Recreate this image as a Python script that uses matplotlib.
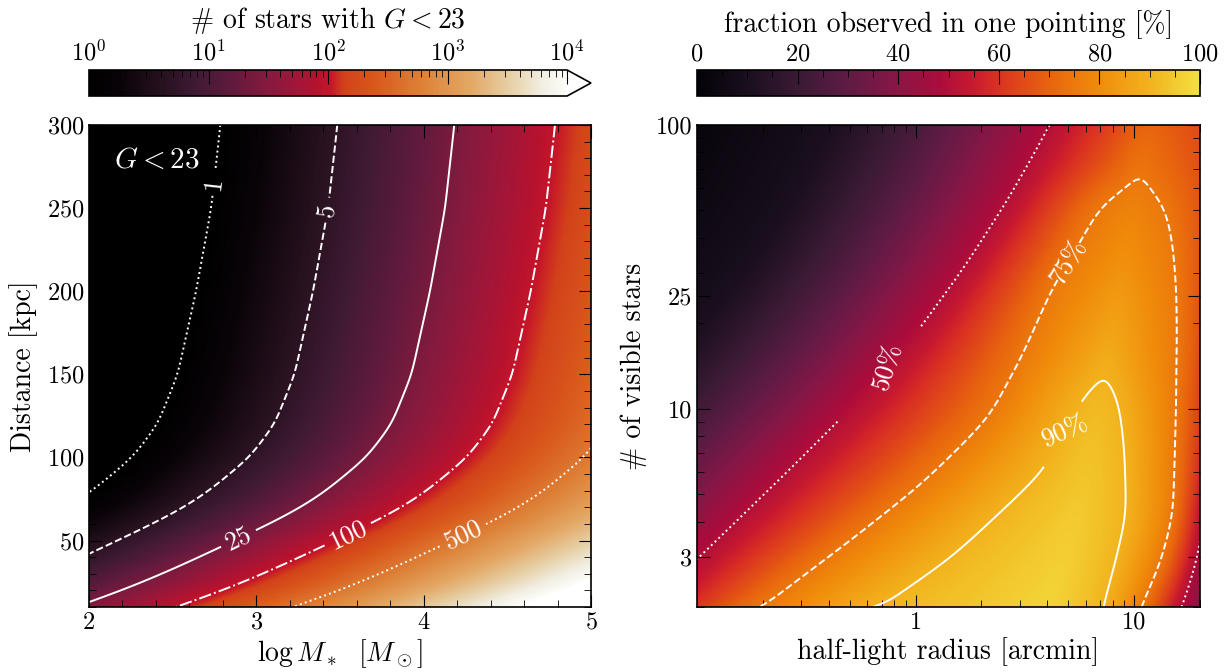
import numpy as np
import matplotlib
matplotlib.use("Agg")
import matplotlib.pyplot as plt
from matplotlib.colors import LinearSegmentedColormap, LogNorm, Normalize
from matplotlib.ticker import MultipleLocator, FixedLocator, FixedFormatter, NullFormatter, LogLocator

# ===== left panel: stars with G<23, N = M_* x (stars per Msun at distance D) =====
DIST_ANCHOR = [0, 10, 20, 30, 40, 50, 60, 70, 80, 90, 100, 120, 150, 200, 250, 300, 350]
LOG_STARS_PER_MSUN = [-0.24, -0.52, -0.80, -1.04, -1.26, -1.47, -1.68, -1.87, -2.02, -2.14,
                      -2.26, -2.41, -2.53, -2.64, -2.73, -2.785, -2.83]
LEFT_LEVELS = [1, 5, 25, 100, 500]
LEFT_STYLES = [':', '--', '-', '-.', ':']
LEFT_LABEL_POS = [(2.74, 265), (3.41, 249), (2.89, 52), (3.55, 53), (4.23, 54)]

# ===== right panel: fraction observed in one pointing [%] =====
# rows in log10(# visible stars); u = log10(half-light radius / arcmin)
V_ROWS = [0.301, 0.5, 0.75, 1.0, 1.25, 1.5, 1.75, 2.0]
LOW_LEVELS = [3, 10, 25, 50]
U3_LEFT = [-2.8, -2.5, -2.2, -1.85, -1.55, -1.28, -1.05, -0.9]
U10_LEFT = [-2.3, -2.0, -1.7, -1.33, -1.02, -0.76, -0.55, -0.39]
U25_LEFT = [-1.85, -1.6, -1.28, -0.92, -0.62, -0.36, -0.15, 0.02]
U50_LEFT = [-1.22, -0.954, -0.624, -0.30, -0.01, 0.23, 0.44, 0.615]
EDGE_F = [38, 49, 58, 63, 66, 67, 67, 65]   # value at the right border (20 arcmin)

L75_V = [0.301, 0.549, 0.737, 0.972, 1.183, 1.442, 1.618, 1.70, 1.783, 1.818]
L75_U = [-0.72, -0.29, 0.025, 0.34, 0.481, 0.623, 0.758, 0.812, 0.892, 1.017]
R75_V = [0.301, 0.443, 0.62, 1.207, 1.407, 1.583, 1.70, 1.771, 1.818]
R75_U = [1.04, 1.127, 1.19, 1.206, 1.206, 1.19, 1.159, 1.112, 1.017]
L90_V = [0.301, 0.502, 0.795, 1.06, 1.09, 1.113]
L90_U = [-0.21, 0.175, 0.585, 0.766, 0.798, 0.86]
R90_V = [0.301, 0.443, 0.62, 0.854, 0.972, 1.09, 1.113]
R90_U = [0.875, 0.923, 0.978, 0.97, 0.954, 0.923, 0.86]
PEAK_V = [0.301, 0.5, 0.75, 1.0, 1.113, 1.3, 1.5, 1.7, 1.818, 2.0]
PEAK_U = [0.62, 0.70, 0.78, 0.83, 0.86, 0.91, 0.95, 0.99, 1.017, 1.05]
PEAK_F = [97.5, 96.5, 94.5, 92.2, 90.8, 86.5, 82.0, 78.0, 75.8, 71.0]

RIGHT_LEVELS = [50, 75, 90]
RIGHT_STYLES = [':', '--', '-']
RIGHT_LABEL_POS = [(0.764, 14.06), (5.0, 33.0), (4.8, 8.5)]

# colormaps
LEFT_CMAP_POS = [0, 0.06, 0.13, 0.22, 0.30, 0.375, 0.44, 0.48, 0.505, 0.535, 0.6, 0.7, 0.8, 0.88, 0.95, 1.0]
LEFT_CMAP_COL = ['#000000', '#080307', '#1f0e19', '#3e1a32', '#621a3d', '#861a3e', '#a51537',
                 '#b8122e', '#c6162a', '#d3421a', '#d9591c', '#dd8238', '#e3a866', '#e6cfa4',
                 '#f1eee2', '#fcfcf8']
RIGHT_CMAP_POS = [0, 0.1, 0.2, 0.3, 0.4, 0.48, 0.55, 0.6, 0.7, 0.8, 0.9, 1.0]
RIGHT_CMAP_COL = ['#040308', '#1a0f1e', '#3a1a34', '#5f1b45', '#8a1645', '#ab0c3c', '#c81a30',
                  '#da3222', '#e8640e', '#f08c0a', '#f2b21c', '#f3e040']

plt.rcParams.update({
    "font.family": "serif",
    "font.serif": ["cmr10"],
    "mathtext.fontset": "cm",
    "axes.formatter.use_mathtext": True,
    "font.size": 17.5,
    "axes.labelsize": 20,
    "xtick.labelsize": 17.5, "ytick.labelsize": 17.5,
    "xtick.direction": "in", "ytick.direction": "in",
    "xtick.top": True, "ytick.right": True,
    "xtick.major.size": 9, "ytick.major.size": 9,
    "xtick.minor.size": 5, "ytick.minor.size": 5,
    "axes.linewidth": 1.2,
})

cmap_l = LinearSegmentedColormap.from_list("lcm", list(zip(LEFT_CMAP_POS, LEFT_CMAP_COL)))
cmap_l.set_under('black'); cmap_l.set_over('white')
cmap_r = LinearSegmentedColormap.from_list("rcm", list(zip(RIGHT_CMAP_POS, RIGHT_CMAP_COL)))


def boxsmooth(a, n, axis):
    # running mean, edges extended linearly (odd reflection)
    k = np.ones(n) / n
    h = n // 2
    f = lambda r: np.convolve(np.pad(r, h, mode='reflect', reflect_type='odd'), k, mode='valid')
    return np.apply_along_axis(f, axis, a)


W, H = 1229, 672
def box(x0, y0, x1, y1):
    return [x0 / W, 1 - y1 / H, (x1 - x0) / W, (y1 - y0) / H]

fig = plt.figure(figsize=(W / 100, H / 100), dpi=100)
ax1 = fig.add_axes(box(89, 125, 591, 607))
ax2 = fig.add_axes(box(697, 125, 1200, 607))
cax1 = fig.add_axes(box(89, 70, 591, 96))
cax2 = fig.add_axes(box(697, 70, 1200, 96))

# ---- left ----
logm = np.linspace(2, 5, 500)
dist = np.linspace(10, 300, 500)
d_fine = np.arange(0, 350.01, 0.5)
h_fine = np.interp(d_fine, DIST_ANCHOR, LOG_STARS_PER_MSUN)
for _ in range(3):
    h_fine = boxsmooth(h_fine, 21, 0)
h = np.interp(dist, d_fine, h_fine)
nstar = 10 ** (logm[None, :] + h[:, None])
m1 = ax1.pcolormesh(logm, dist, nstar, cmap=cmap_l, norm=LogNorm(1, 1e4),
                    shading='gouraud', rasterized=True)
cs1 = ax1.contour(logm, dist, nstar, levels=LEFT_LEVELS, colors='white',
                  linestyles=LEFT_STYLES, linewidths=1.4)
ax1.clabel(cs1, fmt=lambda x: f"{x:g}", manual=LEFT_LABEL_POS, inline=True,
           fontsize=19, colors='white', inline_spacing=6)
ax1.set_xlim(2, 5); ax1.set_ylim(10, 300)
ax1.xaxis.set_major_locator(MultipleLocator(1)); ax1.xaxis.set_minor_locator(MultipleLocator(0.2))
ax1.yaxis.set_major_locator(MultipleLocator(50)); ax1.yaxis.set_minor_locator(MultipleLocator(10))
ax1.set_xlabel(r"$\log M_*\ \ [M_\odot]$", labelpad=2)
ax1.set_ylabel("Distance [kpc]", labelpad=6)
ax1.text(0.05, 0.925, r"$G<23$", transform=ax1.transAxes, color='white',
         fontsize=21, va='center', ha='left')

cb1 = fig.colorbar(m1, cax=cax1, orientation='horizontal', extend='max')
cb1.set_label(r"# of stars with $G<23$", fontsize=20, labelpad=8)
cb1.ax.xaxis.set_label_position('top')
cb1.ax.xaxis.set_ticks_position('top')
cb1.ax.tick_params(which='both', direction='in', top=True, bottom=False, labeltop=True, labelbottom=False)
cb1.ax.tick_params(which='major', length=10)
cb1.ax.tick_params(which='minor', length=5)
cb1.set_ticks([1, 10, 100, 1000, 10000])

# ---- right ----
u = np.linspace(-1, np.log10(20), 460)
v = np.linspace(np.log10(2), 2, 420)
frac = np.zeros((v.size, u.size))
for i, vv in enumerate(v):
    pu, pf = [-4.0], [0.0]
    for lev, arr in zip(LOW_LEVELS, (U3_LEFT, U10_LEFT, U25_LEFT, U50_LEFT)):
        pu.append(np.interp(vv, V_ROWS, arr)); pf.append(lev)
    for lev, lv, lu in ((75, L75_V, L75_U), (90, L90_V, L90_U)):
        if vv < lv[-1]:
            pu.append(np.interp(vv, lv, lu)); pf.append(lev)
    pu.append(np.interp(vv, PEAK_V, PEAK_U)); pf.append(np.interp(vv, PEAK_V, PEAK_F))
    for lev, rv, ru in ((90, R90_V, R90_U), (75, R75_V, R75_U)):
        if vv < rv[-1]:
            pu.append(np.interp(vv, rv, ru)); pf.append(lev)
    pu.append(np.log10(20)); pf.append(np.interp(vv, V_ROWS, EDGE_F))
    frac[i] = np.interp(u, pu, pf)

# smooth the piecewise profiles (stronger along the star-count axis)
for _ in range(3):
    frac = boxsmooth(frac, 13, 1)
    frac = boxsmooth(frac, 25, 0)

rad = 10 ** u
nvis = 10 ** v
m2 = ax2.pcolormesh(rad, nvis, frac, cmap=cmap_r, norm=Normalize(0, 100),
                    shading='gouraud', rasterized=True)
cs2 = ax2.contour(rad, nvis, frac, levels=RIGHT_LEVELS, colors='white',
                  linestyles=RIGHT_STYLES, linewidths=1.4)
ax2.clabel(cs2, fmt=lambda x: f"{x:g}%", manual=RIGHT_LABEL_POS, inline=True,
           fontsize=19, colors='white', inline_spacing=2)
ax2.set_xscale('log'); ax2.set_yscale('log')
ax2.set_xlim(0.1, 20); ax2.set_ylim(2, 100)
ax2.xaxis.set_major_locator(FixedLocator([1, 10]))
ax2.xaxis.set_major_formatter(FixedFormatter(["1", "10"]))
ax2.xaxis.set_minor_locator(LogLocator(base=10, subs=np.arange(2, 10), numticks=20))
ax2.xaxis.set_minor_formatter(NullFormatter())
ax2.yaxis.set_major_locator(FixedLocator([3, 10, 25, 100]))
ax2.yaxis.set_major_formatter(FixedFormatter(["3", "10", "25", "100"]))
ax2.yaxis.set_minor_locator(LogLocator(base=10, subs=np.arange(2, 10), numticks=20))
ax2.yaxis.set_minor_formatter(NullFormatter())
ax2.set_xlabel("half-light radius [arcmin]", labelpad=2)
ax2.set_ylabel("# of visible stars", labelpad=6)

cb2 = fig.colorbar(m2, cax=cax2, orientation='horizontal')
cb2.set_label("fraction observed in one pointing [%]", fontsize=20, labelpad=8)
cb2.ax.xaxis.set_label_position('top')
cb2.ax.xaxis.set_ticks_position('top')
cb2.set_ticks([0, 20, 40, 60, 80, 100])
cb2.ax.xaxis.set_minor_locator(MultipleLocator(5))
cb2.ax.tick_params(which='both', direction='in', top=True, bottom=False, labeltop=True, labelbottom=False)
cb2.ax.tick_params(which='major', length=10)
cb2.ax.tick_params(which='minor', length=5)

fig.savefig("out.png", dpi=100)
